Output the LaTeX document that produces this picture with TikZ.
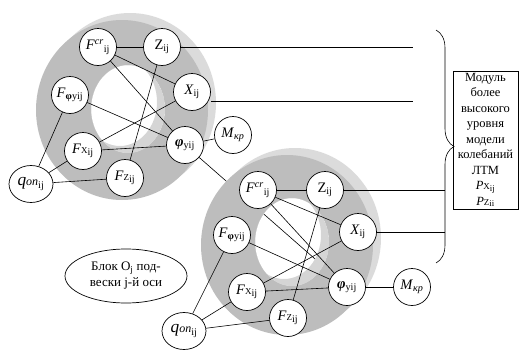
\documentclass[tikz,border=0pt]{standalone}
\usepackage{fontspec}
\setmainfont{Liberation Serif}
\usepackage{tikz}
\usetikzlibrary{calc,shapes.geometric,decorations.pathreplacing}
% #1 = centre of the front face, #2 = centre of the opening
\newcommand{\suspring}[2]{%
  \fill[ringback,even odd rule] ($(#1)+(8,-7)$) ellipse[x radius=86pt,y radius=90pt]
    (#2) ellipse[x radius=37pt,y radius=44pt];
  \fill[ringfront,even odd rule] (#1) ellipse[x radius=86pt,y radius=90pt]
    (#2) ellipse[x radius=37pt,y radius=44pt];
  \begin{scope}
    \clip (#2) ellipse[x radius=37pt,y radius=44pt];
    \fill[ringwall,even odd rule] (#2) ellipse[x radius=37pt,y radius=44pt]
      ($(#2)+(-8,-7)$) ellipse[x radius=37pt,y radius=44pt];
  \end{scope}}
\tikzset{
  var/.style={
    circle,
    draw,
    fill=white,
    line width=0.7pt,
    minimum size=37pt,
    inner sep=0pt,
    font=\fontsize{14.5}{16}\selectfont
  },
  varwide/.style={
    var,
    ellipse,
    minimum width=44pt,
    minimum height=37pt
  },
  module/.style={
    draw,
    line width=0.6pt,
    text width=61pt,
    align=center,
    inner xsep=2pt,
    inner ysep=2pt,
    font=\fontsize{12.5}{15.5}\selectfont
  },
  blockell/.style={
    ellipse,
    draw,
    line width=0.7pt,
    minimum width=122pt,
    minimum height=54pt,
    inner sep=0pt,
    align=center,
    font=\fontsize{13}{16}\selectfont
  },
  link/.style={line width=0.6pt},
  ringback/.style={fill=gray!28},
  ringfront/.style={fill=gray!52},
  ringwall/.style={fill=gray!33}
}

\begin{document}
\begin{tikzpicture}[x=1pt,y=-1pt]
  \useasboundingbox (0,0) rectangle (520,351);
  % upper block
  \suspring{122,110}{128,109}
  \node[var] (Fcr1) at (98,47) {\textit{F}\textsuperscript{\textit{cr}}\textsubscript{ij}};
  \node[var] (Z1) at (162,47) {Z\textsubscript{ij}};
  \node[var] (Fphi1) at (70,95) {\textit{F}\textsubscript{\textbf{φ}yij}};
  \node[var] (X1) at (192,92) {\textit{X}\textsubscript{ij}};
  \node[var] (Fx1) at (83,151) {\textit{F}{\small X}\textsubscript{ij}};
  \node[var] (phi1) at (185,145) {\textbf{\textit{φ}}\textsubscript{yij}};
  \node[var] (M1) at (233,135) {\textit{M}\textsubscript{\textit{кр}}};
  \node[var] (Fz1) at (125,178) {\textit{F}{\small Z}\textsubscript{ij}};
  \node[varwide] (q1) at (31,184) {{\LARGE\textit{q}}{\large\textit{оп}}\textsubscript{ij}};
  \draw[link] (Fcr1) -- (Z1);
  \draw[link] (Fcr1) -- (X1);
  \draw[link] (Fcr1) -- (phi1);
  \draw[link] (Z1) -- (Fz1);
  \draw[link] (X1) -- (Fx1);
  \draw[link] (Fphi1) -- (phi1);
  \draw[link] (Fx1) -- (phi1);
  \draw[link] (phi1) -- (M1);
  \draw[link] (q1) -- (Fphi1);
  \draw[link] (q1) -- (Fx1);
  \draw[link] (q1) -- (Fz1);
  % link to the lower block, passing behind it
  \coordinate (phi2c) at (347,287);
  \draw[link] (phi1) -- (phi2c);
  % lower block
  \suspring{287,245}{292,242}
  \node[var] (Fcr2) at (258,190) {\textit{F}\textsuperscript{\textit{cr}}\textsubscript{ij}};
  \node[var] (Z2) at (325,190) {Z\textsubscript{ij}};
  \node[var] (Fphi2) at (232,235) {\textit{F}\textsubscript{\textbf{φ}yij}};
  \node[var] (X2) at (358,232) {\textit{X}\textsubscript{ij}};
  \node[var] (Fx2) at (247,292) {\textit{F}{\small X}\textsubscript{ij}};
  \node[var] (phi2) at (phi2c) {\textbf{\textit{φ}}\textsubscript{yij}};
  \node[var] (M2) at (412,287) {\textit{M}\textsubscript{\textit{кр}}};
  \node[var] (Fz2) at (288,318) {\textit{F}{\small Z}\textsubscript{ij}};
  \node[varwide] (q2) at (184,331) {{\LARGE\textit{q}}{\large\textit{оп}}\textsubscript{ij}};
  \draw[link] (Fcr2) -- (Z2);
  \draw[link] (Fcr2) -- (X2);
  \draw[link] (Fcr2) -- (phi2);
  \draw[link] (Z2) -- (Fz2);
  \draw[link] (X2) -- (Fx2);
  \draw[link] (Fphi2) -- (phi2);
  \draw[link] (Fx2) -- (phi2);
  \draw[link] (phi2) -- (M2);
  \draw[link] (q2) -- (Fphi2);
  \draw[link] (q2) -- (Fx2);
  \draw[link] (q2) -- (Fz2);
  % outputs to the upper-level module
  \coordinate (tA) at (413,47);
  \coordinate (tB) at (413,101);
  \coordinate (tC) at (445,190);
  \coordinate (tD) at (445,232);
  \draw[link] (Z1) -- (tA);
  \draw[link] (X1.east |- tB) -- (tB);
  \draw[link] (Z2) -- (tC);
  \draw[link] (X2) -- (tD);
  \draw[link,decorate,decoration={brace,amplitude=18pt}] (436,30) -- (436,263);
  \node[module] (mod) at (485.5,140) {Модуль\\более\\высокого\\уровня\\модели\\колебаний\\ЛТМ\\\textit{P}{\small X}\textsubscript{ij}\\\textit{P}{\small Z}\textsubscript{ii}};
  \node[blockell] (blk) at (126,276) {Блок O\textsubscript{j} под-\\вески j-й оси};
\end{tikzpicture}
\end{document}
